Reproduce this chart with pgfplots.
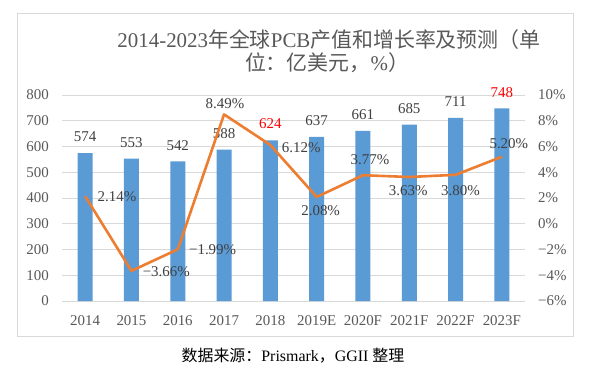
\documentclass[border=0pt]{standalone}
\usepackage{fontspec}
\setmainfont{Liberation Serif}
\newfontfamily\cjk{Noto Sans CJK SC}
\usepackage{pgfplots}
\pgfplotsset{compat=1.18}
\definecolor{barblue}{HTML}{5B9BD5}
\definecolor{lineorange}{HTML}{ED7D31}
\definecolor{txtgray}{HTML}{595959}
\definecolor{lblgray}{HTML}{404040}
\definecolor{gridgray}{HTML}{D9D9D9}
\definecolor{framegray}{HTML}{D9D9D9}
\begin{document}
\begin{tikzpicture}
\fill[white] (0bp,0bp) rectangle (589bp,376bp);
\draw[framegray, line width=0.8bp] (17bp,40bp) rectangle (573bp,363bp);
\node[text=txtgray, font=\fontsize{21}{25}\selectfont, inner sep=0pt] at (329bp,336bp)
  {2014-2023{\cjk 年全球}PCB{\cjk 产值和增长率及预测（单}};
\node[text=txtgray, font=\fontsize{21}{25}\selectfont, inner sep=0pt] at (327bp,313bp)
  {{\cjk 位：亿美元，}\%{\cjk ）}};
\node[text=black, font=\fontsize{16}{19}\selectfont, inner sep=0pt] at (293bp,20bp)
  {{\cjk 数据来源：}Prismark{\cjk ，}GGII {\cjk 整理}};

\begin{axis}[
  at={(62bp,75bp)}, anchor=south west,
  scale only axis, width=463bp, height=206bp,
  xmin=-0.5, xmax=9.5, ymin=0, ymax=800,
  xtick={0,...,9},
  xticklabels={2014,2015,2016,2017,2018,2019E,2020F,2021F,2022F,2023F},
  ytick={0,100,...,800},
  yticklabels={0,100,200,300,400,500,600,700,800},
  ymajorgrids, major grid style={gridgray, line width=0.8bp},
  axis line style={draw=none}, tick style={draw=none},
  xticklabel style={font=\fontsize{15}{18}\selectfont, text=txtgray, anchor=north, inner sep=0pt, yshift=-14bp},
  yticklabel style={font=\fontsize{15}{18}\selectfont, text=txtgray, anchor=east, inner sep=0pt, xshift=-13bp},
  clip=false,
]
\addplot[ybar, bar width=15bp, fill=barblue, draw=none,
  nodes near coords, point meta=explicit symbolic,
  nodes near coords style={anchor=south, inner sep=0pt, yshift=11bp, font=\fontsize{15}{18}\selectfont, text=lblgray}]
  table[x=x, y=y, meta=lab] {
x y lab
0 574 574
1 553 553
2 542 542
3 588 588
4 624 \textcolor{red}{624}
5 637 637
6 661 661
7 685 685
8 711 711
9 748 \textcolor{red}{748}
};
\end{axis}

\begin{axis}[
  at={(62bp,75bp)}, anchor=south west,
  scale only axis, width=463bp, height=206bp,
  xmin=-0.5, xmax=9.5, ymin=-6, ymax=10,
  axis x line=none, axis y line*=right,
  ytick={-6,-4,...,10},
  yticklabels={−6\%,−4\%,−2\%,0\%,2\%,4\%,6\%,8\%,10\%},
  axis line style={draw=none}, tick style={draw=none},
  yticklabel style={font=\fontsize{15}{18}\selectfont, text=txtgray, anchor=west, inner sep=0pt, xshift=13bp},
  clip=false,
]
\addplot[lineorange, line width=2.6bp, line join=round, mark=none,
  nodes near coords, point meta=explicit symbolic,
  visualization depends on={\thisrow{dx} \as \dx},
  visualization depends on={\thisrow{dy} \as \dy},
  nodes near coords style={anchor=center, inner sep=0pt, xshift=\dx, yshift=\dy, font=\fontsize{15}{18}\selectfont, text=lblgray}]
  table[x=x, y=y, meta=lab] {
x y lab dx dy
0 2.14 2.14\% 32 0
1 -3.66 −3.66\% 35 -1
2 -1.99 −1.99\% 35 0
3 8.49 8.49\% 1 11
4 6.12 6.12\% 31 -3
5 2.08 2.08\% 4 -14
6 3.77 3.77\% 7 16
7 3.63 3.63\% -1 -14
8 3.80 3.80\% 5 -16
9 5.20 5.20\% 7 13
};
\end{axis}
\end{tikzpicture}
\end{document}
